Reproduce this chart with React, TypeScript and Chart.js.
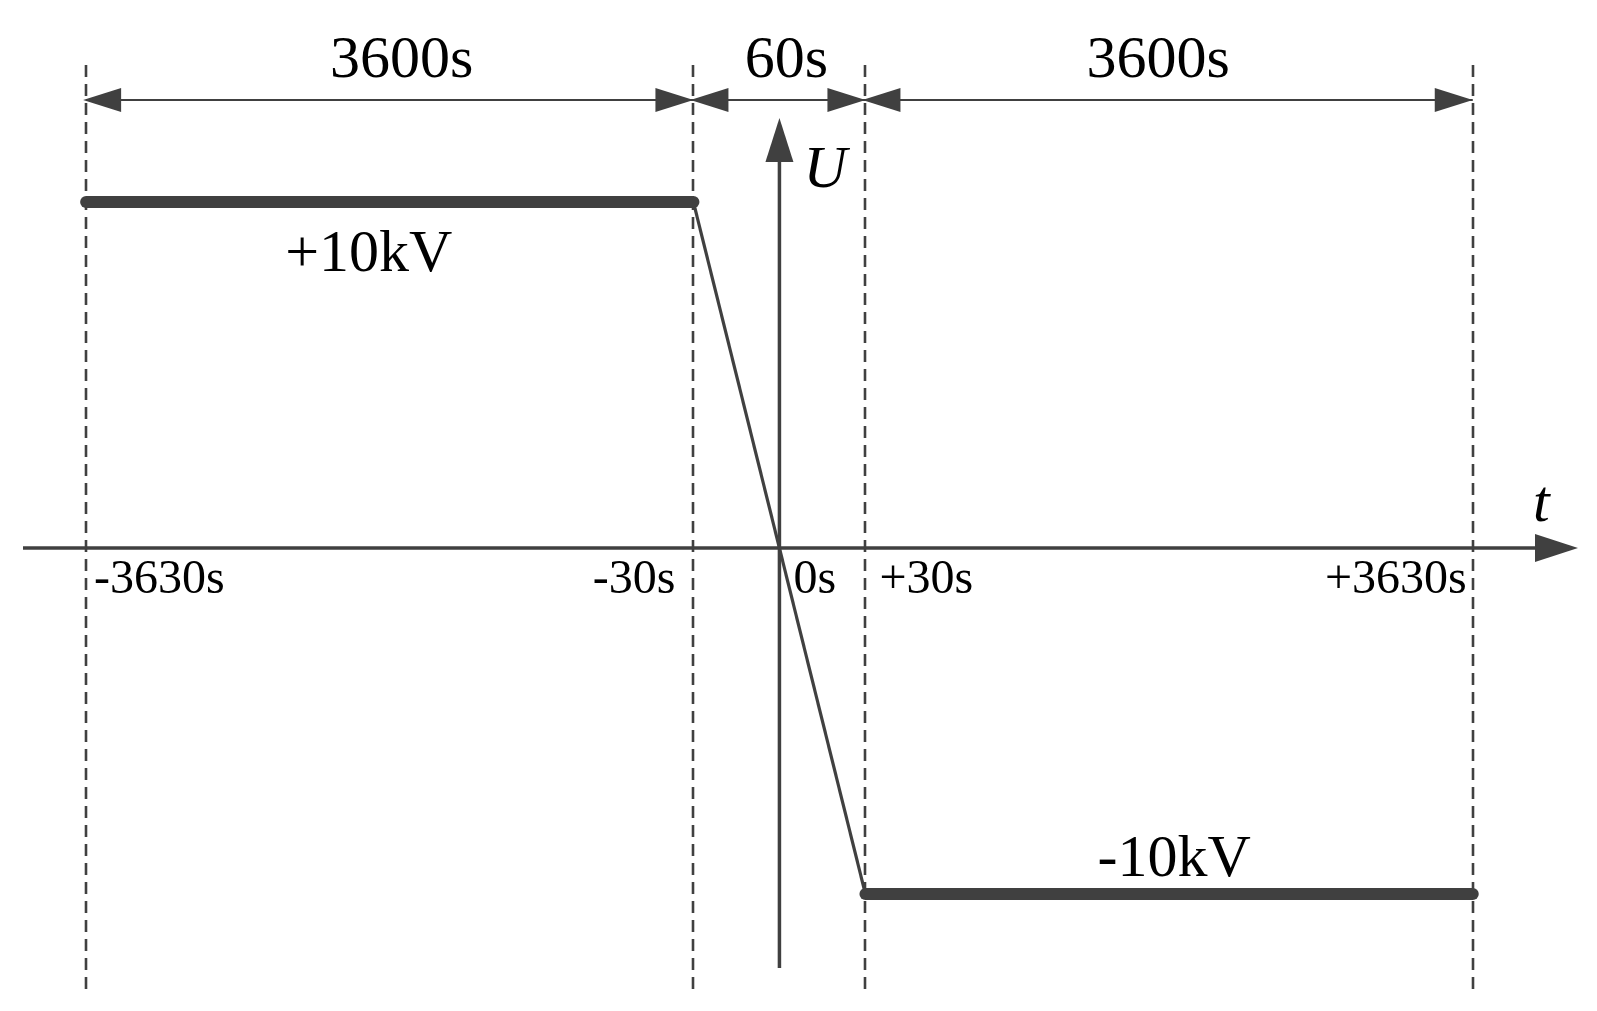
import React, { useEffect, useRef } from "react";
import { Chart, registerables } from "chart.js";

Chart.register(...registerables);

// ---- data ----
const WAVE_T = [-3630, -30, 30, 3630]; // seconds
const WAVE_U = [10, 10, -10, -10]; // kV
const BOUNDARY_T = [-3630, -30, 30, 3630];
const TICK_T = [-3630, -30, 0, 30, 3630];
const TICK_LABELS = ["-3630s", "-30s", "0s", "+30s", "+3630s"];
const SPAN_START = [-3630, -30, 30];
const SPAN_END = [-30, 30, 3630];
const SPAN_LABELS = ["3600s", "60s", "3600s"];
const LEVEL_LABELS = ["+10kV", "-10kV"];
const LEVEL_VALUES = [10, -10];

// schematic (broken) time axis: linear within ±30 s, compressed beyond
const LINEAR_ZONE = 30;
const COMPRESS = 0.05885;
function sx(t: number): number {
  const a = Math.abs(t);
  if (a <= LINEAR_ZONE) return t;
  return Math.sign(t) * (LINEAR_ZONE + (a - LINEAR_ZONE) * COMPRESS);
}

const INK = "#404040";
const FONT = "'Liberation Serif', 'Times New Roman', serif";

const overlay = {
  id: "schematic",
  beforeDatasetsDraw(chart: any) {
    const ctx = chart.ctx as CanvasRenderingContext2D;
    const xs = chart.scales.x;
    const px = (t: number) => xs.getPixelForValue(sx(t));
    ctx.save();
    // dashed boundary lines
    ctx.strokeStyle = INK;
    ctx.lineWidth = 2.6;
    ctx.setLineDash([12, 7]);
    BOUNDARY_T.forEach((t) => {
      const x = Math.round(px(t));
      ctx.beginPath();
      ctx.moveTo(x, 65);
      ctx.lineTo(x, 996);
      ctx.stroke();
    });
    ctx.setLineDash([]);
    ctx.restore();
  },
  afterDatasetsDraw(chart: any) {
    const ctx = chart.ctx as CanvasRenderingContext2D;
    const xs = chart.scales.x;
    const ys = chart.scales.y;
    const px = (t: number) => xs.getPixelForValue(sx(t));
    const y0 = ys.getPixelForValue(0);
    const x0 = xs.getPixelForValue(0);
    ctx.save();
    ctx.fillStyle = INK;
    ctx.strokeStyle = INK;

    // x axis
    ctx.lineWidth = 3.5;
    ctx.beginPath();
    ctx.moveTo(23, y0);
    ctx.lineTo(1540, y0);
    ctx.stroke();
    ctx.beginPath();
    ctx.moveTo(1578, y0);
    ctx.lineTo(1535, y0 - 14);
    ctx.lineTo(1535, y0 + 14);
    ctx.closePath();
    ctx.fill();

    // y axis
    ctx.beginPath();
    ctx.moveTo(x0, 968);
    ctx.lineTo(x0, 158);
    ctx.stroke();
    ctx.beginPath();
    ctx.moveTo(x0, 118);
    ctx.lineTo(x0 - 14, 162);
    ctx.lineTo(x0 + 14, 162);
    ctx.closePath();
    ctx.fill();

    // dimension line with arrows
    const dy = 100;
    ctx.lineWidth = 2;
    ctx.beginPath();
    ctx.moveTo(px(SPAN_START[0]), dy);
    ctx.lineTo(px(SPAN_END[SPAN_END.length - 1]), dy);
    ctx.stroke();
    const arrow = (tipX: number, dir: number) => {
      ctx.beginPath();
      ctx.moveTo(tipX, dy);
      ctx.lineTo(tipX - dir * 38, dy - 12);
      ctx.lineTo(tipX - dir * 38, dy + 12);
      ctx.closePath();
      ctx.fill();
    };
    SPAN_START.forEach((s, i) => {
      const a = px(s);
      const b = px(SPAN_END[i]);
      arrow(a - 3, -1);
      arrow(b, 1);
    });

    // texts
    ctx.fillStyle = "#000";
    ctx.textBaseline = "alphabetic";
    ctx.font = `60px ${FONT}`;
    ctx.textAlign = "center";
    SPAN_LABELS.forEach((lab, i) => {
      const offs = [12, 7, -11][i];
      ctx.fillText(lab, (px(SPAN_START[i]) + px(SPAN_END[i])) / 2 + offs, 77);
    });
    // level labels
    const lvlX = [
      (px(WAVE_T[0]) + px(WAVE_T[1])) / 2 - 21,
      (px(WAVE_T[2]) + px(WAVE_T[3])) / 2 + 5,
    ];
    const lvlDy = [69, -18];
    LEVEL_LABELS.forEach((lab, i) => {
      ctx.fillText(lab, lvlX[i], ys.getPixelForValue(LEVEL_VALUES[i]) + lvlDy[i]);
    });
    // axis names
    ctx.font = `italic 60px ${FONT}`;
    ctx.textAlign = "left";
    ctx.fillText("U", x0 + 24, 187);
    ctx.fillText("t", 1533, y0 - 27);

    // tick labels
    ctx.font = `48px ${FONT}`;
    TICK_T.forEach((t, i) => {
      const x = px(t);
      let align: CanvasTextAlign = "left";
      let dx = 0;
      if (t === -3630) { align = "left"; dx = 8; }
      else if (t === -30) { align = "right"; dx = -18; }
      else if (t === 0) { align = "left"; dx = 14; }
      else if (t === 30) { align = "left"; dx = 14; }
      else { align = "right"; dx = -6; }
      ctx.textAlign = align;
      ctx.fillText(TICK_LABELS[i], x + dx, y0 + 45);
    });
    ctx.restore();
  },
};

export default function App() {
  const ref = useRef<HTMLCanvasElement | null>(null);
  useEffect(() => {
    document.body.style.margin = "0";
    const canvas = ref.current!;
    const datasets: any[] = [];
    for (let i = 0; i < WAVE_T.length - 1; i++) {
      const flat = WAVE_U[i] === WAVE_U[i + 1];
      datasets.push({
        data: [
          { x: sx(WAVE_T[i]), y: WAVE_U[i] },
          { x: sx(WAVE_T[i + 1]), y: WAVE_U[i + 1] },
        ],
        borderColor: INK,
        borderWidth: flat ? 12 : 3.2,
        borderCapStyle: flat ? "round" : "butt",
        pointRadius: 0,
        fill: false,
      });
    }
    const chart = new Chart(canvas, {
      type: "line",
      data: { datasets },
      options: {
        animation: false,
        responsive: false,
        maintainAspectRatio: false,
        layout: { padding: 0 },
        plugins: { legend: { display: false }, tooltip: { enabled: false } },
        scales: {
          x: { type: "linear", min: -271.9, max: 285.2, display: false },
          y: { type: "linear", min: -13.38, max: 15.84, display: false },
        },
      },
      plugins: [overlay],
    });
    return () => chart.destroy();
  }, []);
  return (
    <div style={{ position: "absolute", left: 0, top: 0, width: 1597, height: 1011, background: "#fff" }}>
      <canvas ref={ref} width={1597} height={1011} style={{ display: "block" }} />
    </div>
  );
}
